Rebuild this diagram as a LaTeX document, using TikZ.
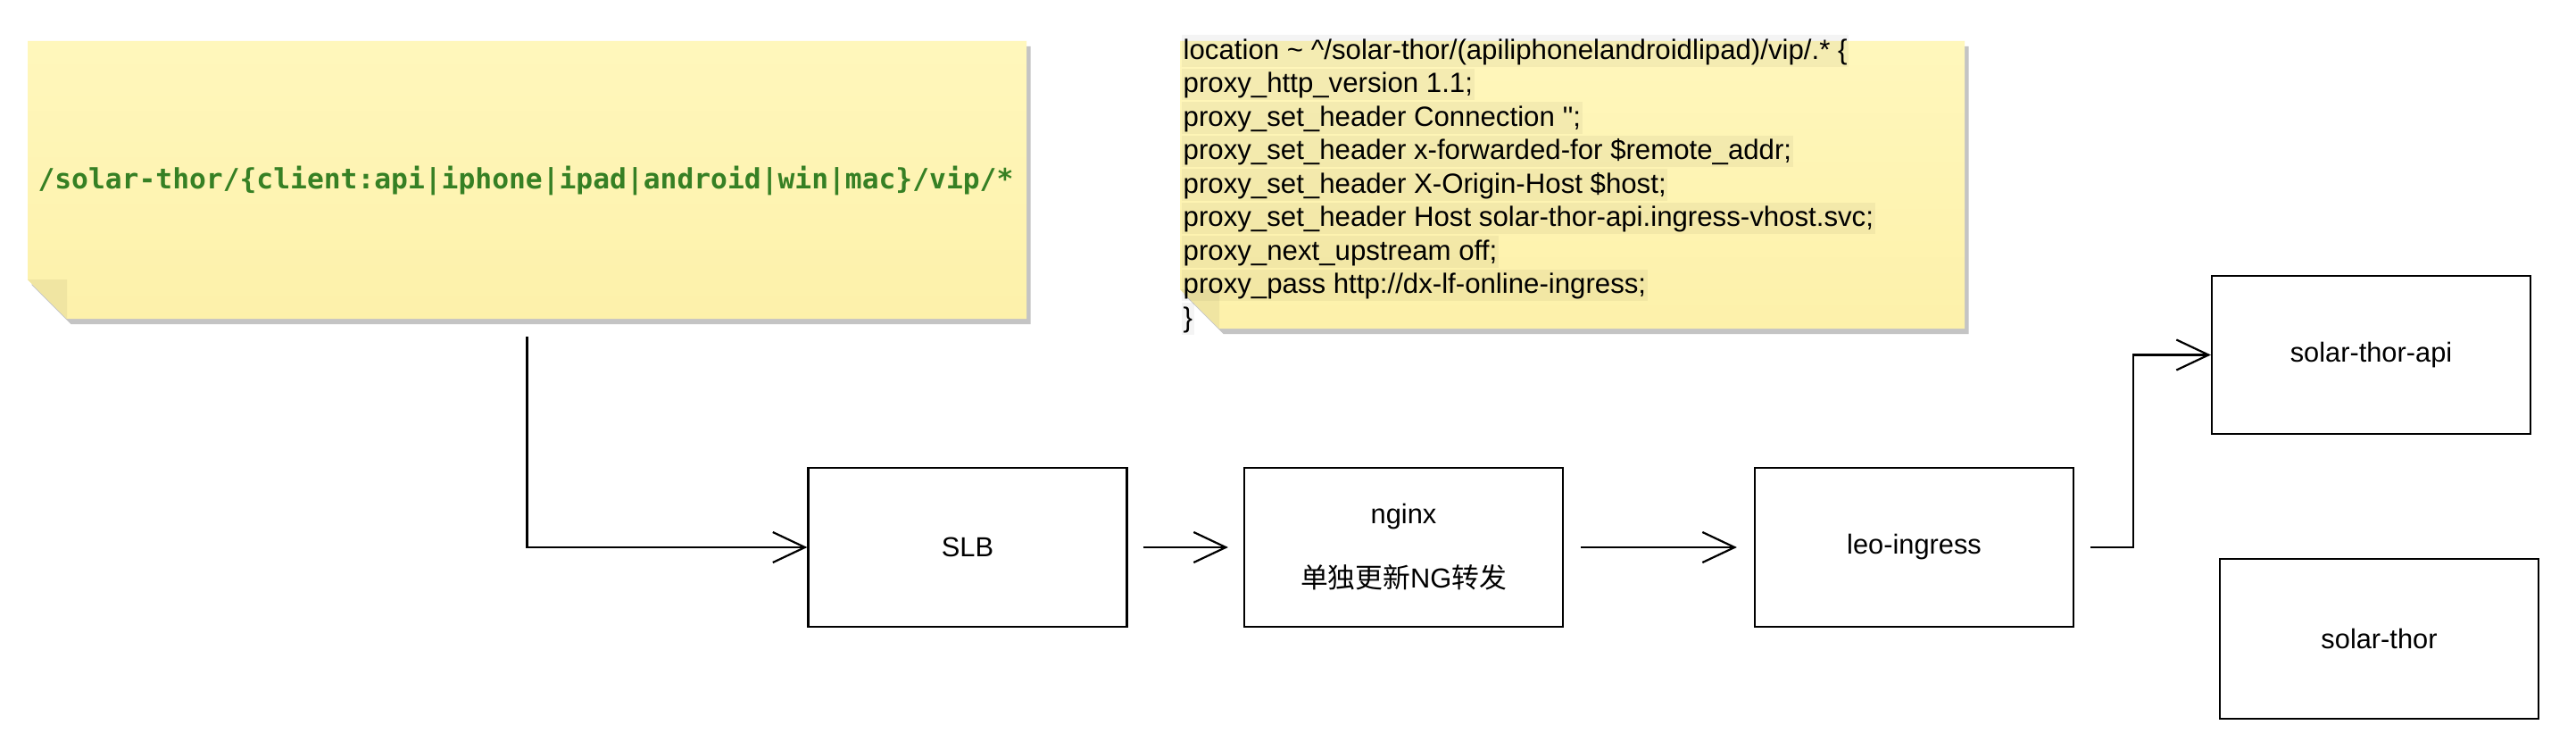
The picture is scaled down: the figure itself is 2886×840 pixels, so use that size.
\documentclass[tikz,border=0pt]{standalone}
\usepackage{fontspec}
\setmainfont{Liberation Sans}
\newfontfamily\plainsans{Liberation Sans}
\newfontfamily\monofam{DejaVu Sans Mono}
\newfontfamily\cjk{Noto Sans CJK SC}
\usetikzlibrary{arrows.meta}
\definecolor{noteTop}{HTML}{FFF7BC}
\definecolor{noteBot}{HTML}{FDF1AA}
\definecolor{foldc}{HTML}{F0E5A2}
\definecolor{notesh}{HTML}{C4C4C4}
\definecolor{codegreen}{HTML}{368024}
% x1 y1 x2 y2 fold
\newcommand\stickynote[5]{%
  \fill[notesh] ({#1+4.5},{#2+6}) -- ({#3+4.5},{#2+6}) -- ({#3+4.5},{#4+6}) -- ({#1+#5+4.5},{#4+6}) -- ({#1+4.5},{#4-#5+6}) -- cycle;
  \shade[top color=noteTop,bottom color=noteBot] (#1,#2) -- (#3,#2) -- (#3,#4) -- ({#1+#5},#4) -- (#1,{#4-#5}) -- cycle;
  \fill[foldc] (#1,{#4-#5}) -- ({#1+#5},{#4-#5}) -- ({#1+#5},#4) -- cycle;
}
\tikzset{
  box/.style={draw=black, line width=2.2pt, minimum width=357pt, minimum height=178pt, inner sep=0pt,
    font=\fontsize{30.8}{37}\selectfont, align=center},
  conn/.style={line width=2.2pt, draw=black, -{Straight Barb[length=36pt,width=34pt]}},
  codeline/.style={anchor=west, font=\plainsans\fontsize{31.2}{37.5}\selectfont, fill=black, fill opacity=0.045,
    text opacity=1, inner xsep=1.5pt, inner ysep=0pt, text height=27pt, text depth=8.5pt},
}
\begin{document}
\begin{tikzpicture}[x=1pt,y=-1pt]
\fill[white] (0,0) rectangle (2886,840);
\useasboundingbox (0,0) rectangle (2886,840);

% note 1
\stickynote{31}{46}{1150}{357}{44}
\node[inner sep=0pt, minimum width=1119pt, minimum height=311pt] (note1) at (590.5,201.5) {};
\node[font=\monofam\bfseries\fontsize{31.3}{37}\selectfont, text=codegreen, inner sep=0pt] (route) at (589,202)
  {/solar-thor/\{client:api|iphone|ipad|android|win|mac\}/vip/*};

% note 2
\stickynote{1322}{46}{2201}{368}{44}
\node[inner sep=0pt, minimum width=879pt, minimum height=322pt] (note2) at (1761.5,207) {};
\node[codeline] (l0) at (1324,57) {location \textasciitilde{} \textasciicircum/solar-thor/(apiliphonelandroidlipad)/vip/.* \{};
\node[codeline] (l1) at (1324,94.5) {proxy\_http\_version 1.1;};
\node[codeline] (l2) at (1324,132) {proxy\_set\_header Connection '';};
\node[codeline] (l3) at (1324,169.5) {proxy\_set\_header x-forwarded-for \$remote\_addr;};
\node[codeline] (l4) at (1324,207) {proxy\_set\_header X-Origin-Host \$host;};
\node[codeline] (l5) at (1324,244.5) {proxy\_set\_header Host solar-thor-api.ingress-vhost.svc;};
\node[codeline] (l6) at (1324,282) {proxy\_next\_upstream off;};
\node[codeline] (l7) at (1324,319.5) {proxy\_pass http://dx-lf-online-ingress;};
\node[codeline] (l8) at (1324,357) {\}};

% boxes
\node[box] (slb) at (1084,613) {SLB};
\node[box] (nginx) at (1572.5,613) {nginx\\[35pt]{\cjk 单独更新}NG{\cjk 转发}};
\node[box] (leo) at (2144.5,613) {leo-ingress};
\node[box, minimum height=177pt] (api) at (2656.5,397.5) {solar-thor-api};
\node[box, minimum height=179pt] (thor) at (2665.5,715.5) {solar-thor};

% connectors
\draw[conn] ([yshift=-20pt]note1.south) |- (slb.west);
\draw[conn] ([xshift=17pt]slb.east) -- ([xshift=-17pt]nginx.west);
\draw[conn] ([xshift=19pt]nginx.east) -- ([xshift=-19pt]leo.west);
\draw[conn] ([xshift=18pt]leo.east) -- ([xshift=66pt]leo.east) |- (api.west);
\end{tikzpicture}
\end{document}
